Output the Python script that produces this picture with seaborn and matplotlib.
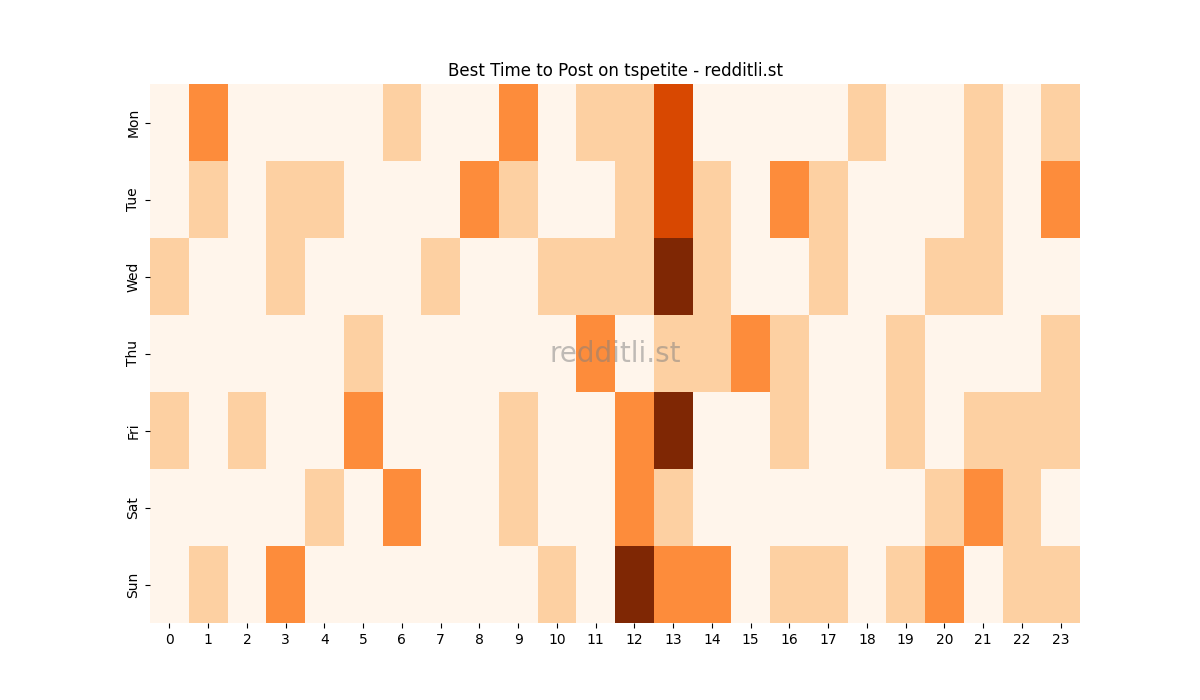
import matplotlib
matplotlib.use("Agg")
import matplotlib.pyplot as plt
import seaborn as sns
import numpy as np
import pandas as pd

days = ["Mon", "Tue", "Wed", "Thu", "Fri", "Sat", "Sun"]
hours = list(range(24))

mon = [0,2,0,0,0,0,1,0,0,2,0,1,1,3,0,0,0,0,1,0,0,1,0,1]
tue = [0,1,0,1,1,0,0,0,2,1,0,0,1,3,1,0,2,1,0,0,0,1,0,2]
wed = [1,0,0,1,0,0,0,1,0,0,1,1,1,4,1,0,0,1,0,0,1,1,0,0]
thu = [0,0,0,0,0,1,0,0,0,0,0,2,0,1,1,2,1,0,0,1,0,0,0,1]
fri = [1,0,1,0,0,2,0,0,0,1,0,0,2,4,0,0,1,0,0,1,0,1,1,1]
sat = [0,0,0,0,1,0,2,0,0,1,0,0,2,1,0,0,0,0,0,0,1,2,1,0]
sun = [0,1,0,2,0,0,0,0,0,0,1,0,4,2,2,0,1,1,0,1,2,0,1,1]

df = pd.DataFrame([mon, tue, wed, thu, fri, sat, sun], index=days, columns=hours)

fig, ax = plt.subplots(figsize=(12, 7), dpi=100)
sns.heatmap(df, cmap="Oranges", vmin=0, vmax=4, cbar=False, ax=ax)
ax.set_title("Best Time to Post on tspetite - redditli.st")
ax.set_xlabel("")
ax.set_ylabel("")
ax.text(0.5, 0.5, "redditli.st", transform=ax.transAxes, ha="center", va="center",
        fontsize=20, color="gray", alpha=0.5)
fig.savefig("out.png", dpi=100)
